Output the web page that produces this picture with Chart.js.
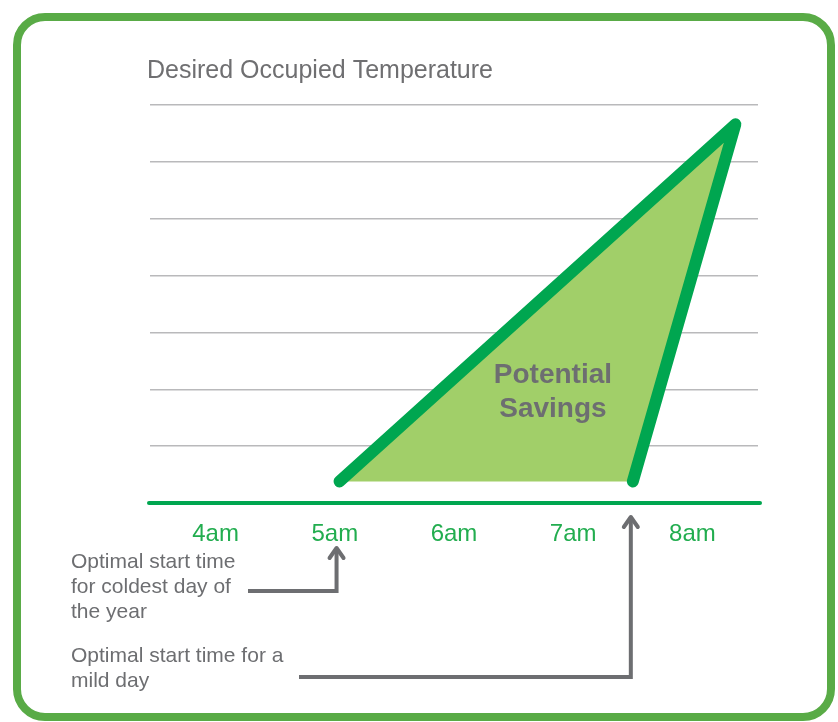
<!DOCTYPE html>
<html>
<head>
<meta charset="utf-8">
<script src="https://cdn.jsdelivr.net/npm/chart.js@4/dist/chart.umd.min.js"></script>
<style>
  html, body { margin: 0; padding: 0; background: #ffffff; }
  #wrap { width: 838px; height: 722px; position: relative; }
</style>
</head>
<body>
<div id="wrap"><canvas id="c" width="838" height="722"></canvas></div>
<script>
// ---- data ----
const chartTitle = "Desired Occupied Temperature";
const hourTicks = [4, 5, 6, 7, 8];
const hourLabels = ["4am", "5am", "6am", "7am", "8am"];
const tempGridLevels = [1, 2, 3, 4, 5, 6, 7];
// Potential savings triangle: start (coldest day) -> desired temp reached -> start (mild day)
const savingsX = [5.04, 8.36, 7.50];
const savingsY = [0.38, 6.66, 0.38];
const savingsLabel = ["Potential", "Savings"];
const coldestNote = ["Optimal start time", "for coldest day of", "the year"];
const mildNote = ["Optimal start time for a", "mild day"];

const GREEN = "#00a650";
const FILL = "#a1cf69";
const GRAY = "#6d6e71";
const FONT = "'Liberation Sans', Arial, Helvetica, sans-serif";

const P = savingsX.map((x, i) => ({ x: x, y: savingsY[i] }));
const strokePts = [P[0], P[1], P[2]];
const fillPts = [P[0], P[2], P[1]];
const hypPts = [P[0], P[1]];

const decor = {
  id: "decor",
  beforeDraw(chart) {
    const ctx = chart.ctx;
    ctx.save();
    ctx.strokeStyle = "#59ab46";
    ctx.lineWidth = 8;
    const x0 = 17, y0 = 17, w = 814, h = 700, r = 28;
    ctx.beginPath();
    ctx.moveTo(x0 + r, y0);
    ctx.lineTo(x0 + w - r, y0);
    ctx.arcTo(x0 + w, y0, x0 + w, y0 + r, r);
    ctx.lineTo(x0 + w, y0 + h - r);
    ctx.arcTo(x0 + w, y0 + h, x0 + w - r, y0 + h, r);
    ctx.lineTo(x0 + r, y0 + h);
    ctx.arcTo(x0, y0 + h, x0, y0 + h - r, r);
    ctx.lineTo(x0, y0 + r);
    ctx.arcTo(x0, y0, x0 + r, y0, r);
    ctx.closePath();
    ctx.stroke();
    ctx.fillStyle = "#6f6f71";
    ctx.font = "25px " + FONT;
    ctx.textAlign = "left";
    ctx.textBaseline = "middle";
    ctx.fillText(chartTitle, 147, 71);
    ctx.restore();
  },
  afterDraw(chart) {
    const ctx = chart.ctx;
    const xs = chart.scales.x, ys = chart.scales.y;
    const area = chart.chartArea;
    ctx.save();
    const y0 = ys.getPixelForValue(0);
    ctx.strokeStyle = GREEN;
    ctx.lineWidth = 4;
    ctx.lineCap = "round";
    ctx.beginPath();
    ctx.moveTo(area.left - 1, y0);
    ctx.lineTo(area.right + 2, y0);
    ctx.stroke();

    ctx.fillStyle = GRAY;
    ctx.font = "bold 28px " + FONT;
    ctx.textAlign = "center";
    ctx.textBaseline = "middle";
    const lx = xs.getPixelForValue(6.83);
    ctx.fillText(savingsLabel[0], lx, ys.getPixelForValue(2.25));
    ctx.fillText(savingsLabel[1], lx, ys.getPixelForValue(1.65));

    ctx.font = "21px " + FONT;
    ctx.textAlign = "left";
    const noteX = 71;
    [562, 587, 612].forEach((yy, i) => ctx.fillText(coldestNote[i], noteX, yy));
    [656, 681].forEach((yy, i) => ctx.fillText(mildNote[i], noteX, yy));

    ctx.strokeStyle = GRAY;
    ctx.lineWidth = 4;
    function arrow(xData, dx, fromX, lineY, tipY) {
      const ax = xs.getPixelForValue(xData) + dx;
      ctx.lineCap = "butt";
      ctx.lineJoin = "miter";
      ctx.beginPath();
      ctx.moveTo(fromX, lineY);
      ctx.lineTo(ax, lineY);
      ctx.lineTo(ax, tipY + 2);
      ctx.stroke();
      ctx.lineJoin = "round";
      ctx.lineCap = "round";
      ctx.beginPath();
      ctx.moveTo(ax - 7, tipY + 12);
      ctx.lineTo(ax, tipY + 2);
      ctx.lineTo(ax + 7, tipY + 12);
      ctx.stroke();
    }
    arrow(savingsX[0], -3, 248, 591, 546);
    arrow(savingsX[2], -2, 299, 677, 515);
    ctx.restore();
  }
};

new Chart(document.getElementById("c"), {
  type: "line",
  data: {
    datasets: [
      {
        data: strokePts,
        borderColor: GREEN,
        borderWidth: 12,
        borderCapStyle: "round",
        borderJoinStyle: "round",
        fill: false,
        pointRadius: 0,
        tension: 0
      },
      {
        data: fillPts,
        borderColor: "rgba(0,0,0,0)",
        borderWidth: 0,
        backgroundColor: FILL,
        fill: "+1",
        pointRadius: 0,
        tension: 0
      },
      {
        data: hypPts,
        borderColor: "rgba(0,0,0,0)",
        borderWidth: 0,
        fill: false,
        pointRadius: 0,
        tension: 0
      }
    ]
  },
  options: {
    responsive: false,
    animation: false,
    devicePixelRatio: 1,
    layout: { padding: { left: 150, right: 80, top: 105, bottom: 0 } },
    plugins: { legend: { display: false }, tooltip: { enabled: false }, title: { display: false } },
    scales: {
      x: {
        type: "linear",
        min: 3.45,
        max: 8.55,
        grid: { display: false, drawTicks: false },
        border: { display: false },
        afterBuildTicks: (s) => { s.ticks = hourTicks.map(v => ({ value: v })); },
        afterFit: (s) => { s.height = 219; },
        ticks: {
          padding: 17,
          color: "#22ad4f",
          font: { family: FONT, size: 24 },
          callback: (v) => { const i = hourTicks.indexOf(v); return i >= 0 ? hourLabels[i] : ""; }
        }
      },
      y: {
        type: "linear",
        min: 0,
        max: 7,
        grid: { color: "#b9b9bb", lineWidth: 1.5, drawTicks: false },
        border: { display: false },
        afterBuildTicks: (s) => { s.ticks = tempGridLevels.map(v => ({ value: v })); },
        afterFit: (s) => { s.width = 0; },
        ticks: { display: false }
      }
    }
  },
  plugins: [decor]
});
</script>
</body>
</html>
